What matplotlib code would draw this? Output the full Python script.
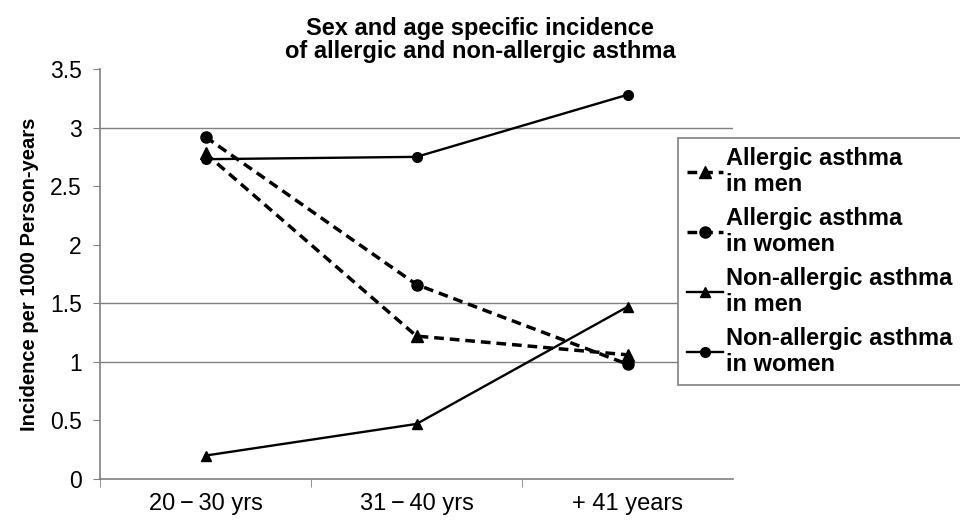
import matplotlib.pyplot as plt

plt.rcParams['font.family'] = ['Liberation Sans', 'DejaVu Sans']

# Incidence per 1000 person-years by age group
age_groups = ['20\u2009\u2212\u200930 yrs', '31\u2009\u2212\u200940 yrs', '+ 41 years']
allergic_men = [2.78, 1.22, 1.06]
allergic_women = [2.92, 1.66, 0.98]
nonallergic_men = [0.20, 0.47, 1.47]
nonallergic_women = [2.73, 2.75, 3.28]

x = range(len(age_groups))

fig = plt.figure(figsize=(9.6, 5.2), dpi=100)
ax = fig.add_axes([100 / 960, 1 - 479 / 520, 633 / 960, 410 / 520])

for yv in [3, 1.5, 1]:
    ax.axhline(yv, color='#808080', lw=1, zorder=0)

dash = (0, (2.8, 1.7))
ax.plot(x, allergic_men, ls=dash, lw=2.5, color='black', marker='^', ms=8,
        label='Allergic asthma\nin men')
ax.plot(x, allergic_women, ls=dash, lw=2.5, color='black', marker='o', ms=8,
        label='Allergic asthma\nin women')
ax.plot(x, nonallergic_men, ls='-', lw=1.7, color='black', marker='^', ms=7,
        label='Non-allergic asthma\nin men')
ax.plot(x, nonallergic_women, ls='-', lw=1.7, color='black', marker='o', ms=7,
        label='Non-allergic asthma\nin women')

ax.set_xlim(-0.5, 2.5)
ax.set_ylim(0, 3.5)
ax.set_yticks([0, 0.5, 1, 1.5, 2, 2.5, 3, 3.5])
ax.set_yticklabels(['0', '0.5', '1', '1.5', '2', '2.5', '3', '3.5'])
ax.set_xticks(list(x))
ax.set_xticklabels(age_groups)
ax.set_xticks([-0.5, 0.5, 1.5], minor=True)
ax.tick_params(axis='x', which='major', length=0, labelsize=17, pad=10)
ax.tick_params(axis='x', which='minor', length=6, color='#808080', direction='out')
ax.tick_params(axis='y', length=5, color='#808080', labelsize=16.5, pad=8)

for s in ['top', 'right']:
    ax.spines[s].set_visible(False)
for s in ['left', 'bottom']:
    ax.spines[s].set_color('#808080')
    ax.spines[s].set_linewidth(1.2)

ax.set_ylabel('Incidence per 1000 Person-years', fontsize=14.5, fontweight='bold', labelpad=8)
fig.text(0.5, 1 - 40 / 520, 'Sex and age specific incidence\nof allergic and non-allergic asthma',
         ha='center', va='center', fontsize=17, fontweight='bold', linespacing=1.05)

leg = ax.legend(loc='upper left', bbox_to_anchor=(678 / 960, 1 - 138 / 520),
                bbox_transform=fig.transFigure, prop={'size': 17, 'weight': 'bold'},
                handlelength=1.5, handletextpad=0.15, labelspacing=0.5,
                fancybox=False, framealpha=1, borderpad=0.4, borderaxespad=0)
for t in leg.get_texts():
    t.set_linespacing(1.12)
leg.get_frame().set_edgecolor('#808080')
leg.get_frame().set_linewidth(1.2)

plt.savefig('out.png', dpi=100)
plt.close()
